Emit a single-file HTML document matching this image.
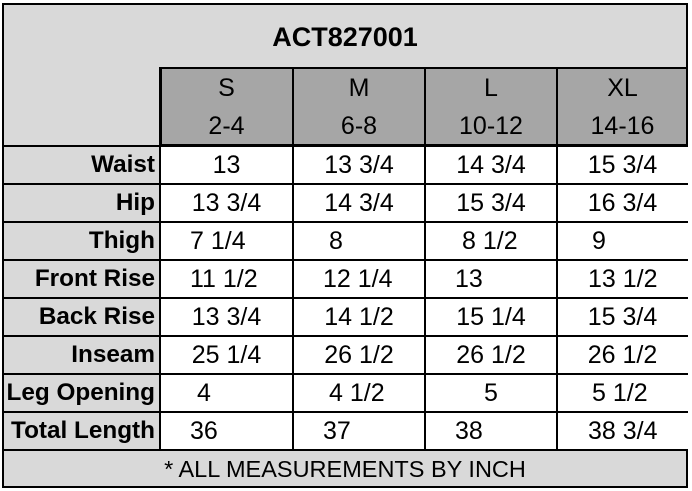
<!DOCTYPE html><html><head><style>
body{margin:0;width:692px;height:491px;background:#fff;position:relative;overflow:hidden;font-family:"Liberation Sans",Carlito,sans-serif;color:#000}
.a{position:absolute;box-sizing:border-box}
.t{position:absolute;font-size:25px;line-height:38px;white-space:nowrap}
.c{text-align:center}
.b{font-weight:bold;font-size:24.3px}
</style></head><body>
<div class="a" style="left:2px;top:3px;width:686px;height:485px;background:#d9d9d9;border:2px solid #000"></div>
<div class="a" style="left:160px;top:67px;width:528px;height:79px;background:#a6a6a6;border:2px solid #000"></div>
<div class="a" style="left:160px;top:145px;width:528px;height:306px;background:#fff"></div>
<div class="a" style="left:2px;top:145px;width:686px;height:2px;background:#000"></div>
<div class="a" style="left:2px;top:183px;width:686px;height:2px;background:#000"></div>
<div class="a" style="left:2px;top:221px;width:686px;height:2px;background:#000"></div>
<div class="a" style="left:2px;top:259px;width:686px;height:2px;background:#000"></div>
<div class="a" style="left:2px;top:297px;width:686px;height:2px;background:#000"></div>
<div class="a" style="left:2px;top:335px;width:686px;height:2px;background:#000"></div>
<div class="a" style="left:2px;top:373px;width:686px;height:2px;background:#000"></div>
<div class="a" style="left:2px;top:411px;width:686px;height:2px;background:#000"></div>
<div class="a" style="left:2px;top:449px;width:686px;height:2px;background:#000"></div>
<div class="a" style="left:159px;top:67px;width:2px;height:384px;background:#000"></div>
<div class="a" style="left:292px;top:67px;width:2px;height:384px;background:#000"></div>
<div class="a" style="left:424px;top:67px;width:2px;height:384px;background:#000"></div>
<div class="a" style="left:556px;top:67px;width:2px;height:384px;background:#000"></div>

<div class="t c b" style="left:2px;width:686px;top:18px;font-size:27px">ACT827001</div>
<div class="t c" style="left:160px;width:133px;top:69px">S</div>
<div class="t c" style="left:293px;width:132px;top:69px">M</div>
<div class="t c" style="left:425px;width:132px;top:69px">L</div>
<div class="t c" style="left:557px;width:131px;top:69px">XL</div>
<div class="t c" style="left:160px;width:133px;top:107px">2-4</div>
<div class="t c" style="left:293px;width:132px;top:107px">6-8</div>
<div class="t c" style="left:425px;width:132px;top:107px">10-12</div>
<div class="t c" style="left:557px;width:131px;top:107px">14-16</div>

<div class="t b" style="right:537px;top:146px">Waist</div>
<div class="t b" style="right:537px;top:184px">Hip</div>
<div class="t b" style="right:537px;top:222px">Thigh</div>
<div class="t b" style="right:537px;top:260px">Front Rise</div>
<div class="t b" style="right:537px;top:298px">Back Rise</div>
<div class="t b" style="right:537px;top:336px">Inseam</div>
<div class="t b" style="right:537px;top:374px">Leg Opening</div>
<div class="t b" style="right:537px;top:412px">Total Length</div>

<div class="t c" style="left:160px;width:133px;top:146px">13</div>
<div class="t c" style="left:293px;width:132px;top:146px">13 3/4</div>
<div class="t c" style="left:425px;width:132px;top:146px">14 3/4</div>
<div class="t c" style="left:557px;width:131px;top:146px">15 3/4</div>

<div class="t c" style="left:160px;width:133px;top:184px">13 3/4</div>
<div class="t c" style="left:293px;width:132px;top:184px">14 3/4</div>
<div class="t c" style="left:425px;width:132px;top:184px">15 3/4</div>
<div class="t c" style="left:557px;width:131px;top:184px">16 3/4</div>

<div class="t" style="left:190px;top:222px">7 1/4</div>
<div class="t" style="left:329px;top:222px">8</div>
<div class="t" style="left:462px;top:222px">8 1/2</div>
<div class="t" style="left:592px;top:222px">9</div>

<div class="t" style="left:190px;top:260px">11 1/2</div>
<div class="t" style="left:323px;top:260px">12 1/4</div>
<div class="t" style="left:455px;top:260px">13</div>
<div class="t" style="left:588px;top:260px">13 1/2</div>

<div class="t c" style="left:160px;width:133px;top:298px">13 3/4</div>
<div class="t c" style="left:293px;width:132px;top:298px">14 1/2</div>
<div class="t c" style="left:425px;width:132px;top:298px">15 1/4</div>
<div class="t c" style="left:557px;width:131px;top:298px">15 3/4</div>

<div class="t c" style="left:160px;width:133px;top:336px">25 1/4</div>
<div class="t c" style="left:293px;width:132px;top:336px">26 1/2</div>
<div class="t c" style="left:425px;width:132px;top:336px">26 1/2</div>
<div class="t c" style="left:557px;width:131px;top:336px">26 1/2</div>

<div class="t" style="left:197px;top:374px">4</div>
<div class="t" style="left:329px;top:374px">4 1/2</div>
<div class="t" style="left:484px;top:374px">5</div>
<div class="t" style="left:592px;top:374px">5 1/2</div>

<div class="t" style="left:190px;top:412px">36</div>
<div class="t" style="left:323px;top:412px">37</div>
<div class="t" style="left:455px;top:412px">38</div>
<div class="t" style="left:588px;top:412px">38 3/4</div>

<div class="t c" style="left:2px;width:686px;top:450px;font-size:23.5px">* ALL MEASUREMENTS BY INCH</div>
</body></html>
